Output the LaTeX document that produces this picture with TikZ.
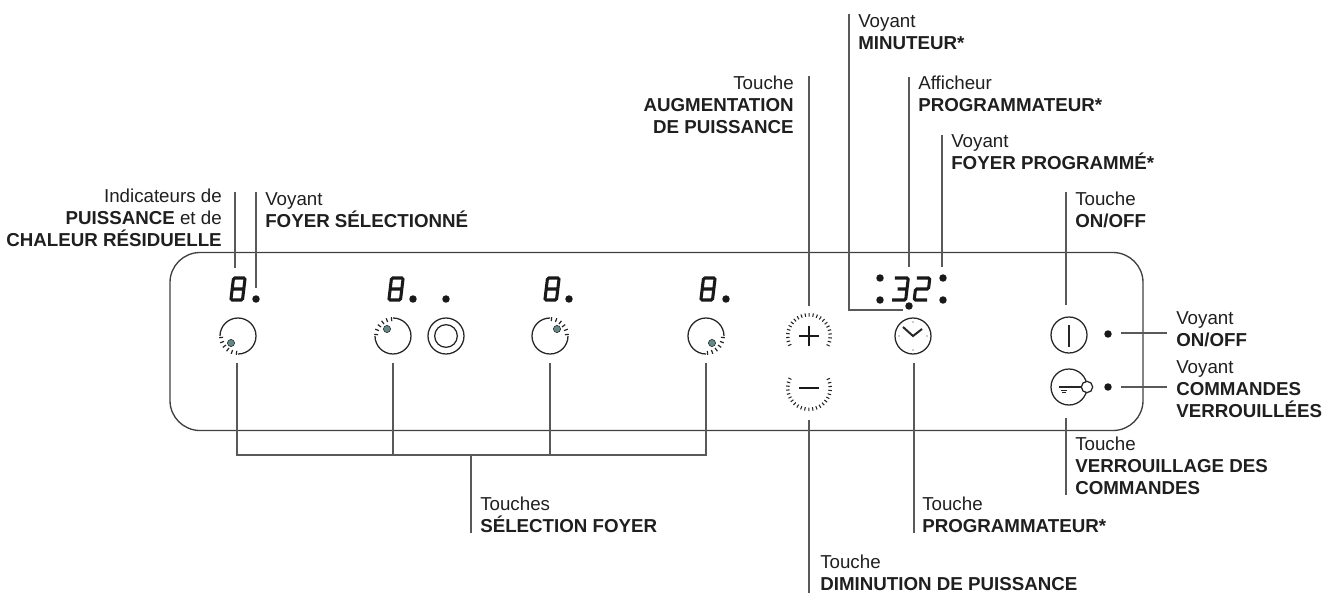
\documentclass[tikz,border=0pt]{standalone}
\usepackage{fontspec}
\setmainfont{Liberation Sans}
\usetikzlibrary{calc}
\tikzset{
  leader/.style={draw=black!65,line width=0.85pt},
  outline/.style={draw=black!75,line width=1pt},
  txtr/.style={text=black!88,font=\fontsize{14.05}{16.5}\selectfont,align=right,anchor=north east,inner sep=0pt},
  txtl/.style={text=black!88,font=\fontsize{14.05}{16.5}\selectfont,align=left,anchor=north west,inner sep=0pt},
  ledpt/.style={circle,fill=black!90,inner sep=0pt,minimum size=5.6pt},
  ledgr/.style={circle,fill=black!55!teal!60,draw=black!85,line width=0.4pt,inner sep=0pt,minimum size=5.4pt},
  btn/.style={circle,draw=black!85,line width=0.95pt,inner sep=0pt,minimum size=27pt},
  eightdigit/.pic={
    \draw[line width=2.3pt,black!90,rounded corners=1pt,xslant=0.12] (-5.8,-11) rectangle (5.8,11) (-5.8,0)--(5.8,0);
  },
  threedigit/.pic={
    \draw[line width=2.3pt,black!90,rounded corners=1pt,xslant=0.12] (-7.5,-11)--(6,-11)--(6,11)--(-7.5,11) (-3.5,0)--(6,0);
  },
  twodigit/.pic={
    \draw[line width=2.3pt,black!90,rounded corners=1pt,xslant=0.12] (-6.5,-11)--(6.5,-11)--(6.5,0)--(-6.5,0)--(-6.5,11)--(6.5,11);
  }
}
\newcommand{\dialbtn}[4]{% name, x, led dx/dy, first tick angle
  \coordinate (#1) at (#2,336);
  \draw[black!85,line width=0.95pt] (#2,336) ++(#4+85:18) arc[start angle=#4+85,end angle=#4+360-5,radius=18];
  \foreach \ang in {0,16,...,80} {
    \draw[black!85,line width=0.9pt] ($(#2,336)+(#4+\ang:15)$)--($(#2,336)+(#4+\ang:19)$);
  }
  \node[ledgr] (#1led) at ($(#2,336)+(#3)$) {};
}
\begin{document}
\begin{tikzpicture}[x=0.75pt,y=-0.75pt]
\useasboundingbox (0,0) rectangle (1324,594);
% panel
\draw[outline,rounded corners=22.5pt] (170,252.5) rectangle (1143,430.5);
% displays
\pic at (238,289) {eightdigit};
\pic at (396,289) {eightdigit};
\pic at (552,289) {eightdigit};
\pic at (708,289) {eightdigit};
\pic at (901,289) {threedigit};
\pic at (922,289) {twodigit};
\node[ledpt] (ledA) at (256,299) {};
\node[ledpt] (ledB) at (413,299) {};
\node[ledpt] (ledC) at (446,299) {};
\node[ledpt] (ledD) at (569,299) {};
\node[ledpt] (ledE) at (726,299) {};
\node[ledpt] (colA) at (880,278) {};
\node[ledpt] (colB) at (880,300) {};
\node[ledpt] (colC) at (943,278) {};
\node[ledpt] (colD) at (943,300) {};
\node[ledpt] (ledMin) at (909,306) {};
\node[ledpt] (ledOn) at (1108,334) {};
\node[ledpt] (ledLock) at (1108,387) {};
% zone keys
\dialbtn{dialA}{238}{-7,7}{95}
\dialbtn{dialB}{393}{-6,-7}{185}
\dialbtn{dialC}{550}{7,-7}{275}
\dialbtn{dialD}{706}{6,7}{5}
\node[btn] (ringO) at (446,336) {};
\node[btn,minimum size=17pt] (ringI) at (446,336) {};
% plus and minus
\coordinate (plusK) at (809,336);
\coordinate (minusK) at (809,388);
\foreach \ang in {155,165.5,...,386} {
  \draw[black!85,line width=0.8pt] ($(plusK)+(\ang:19.5)$)--($(plusK)+(\ang:23)$);
}
\foreach \ang in {-25,-14.5,...,206} {
  \draw[black!85,line width=0.8pt] ($(minusK)+(\ang:19.5)$)--($(minusK)+(\ang:23)$);
}
\draw[black!90,line width=2pt] (799,336)--(819,336) (809,326)--(809,346);
\draw[black!90,line width=2pt] (799,388)--(819,388);
% clock key
\node[btn] (clockK) at (913,336) {};
\draw[black!85,line width=1.5pt] (903,327)--(913,336)--(922,329);
\foreach \ang in {0,90,180,270} {
  \fill[black!85] ($(clockK)+(\ang:14)$) circle (0.7);
}
% on/off and lock keys
\node[btn] (onK) at (1069,335) {};
\coordinate (onT) at (1069,325);
\coordinate (onB) at (1069,347);
\draw[black!85,line width=1pt] (onT)--(onB);
\node[btn] (lockK) at (1069,387) {};
\coordinate (lockL) at (1059,387);
\node[circle,draw=black!85,fill=white,line width=0.95pt,inner sep=0pt,minimum size=8.5pt] (lockR) at (1087,387) {};
\draw[black!85,line width=0.95pt] (lockL)--(lockR);
\draw[black!85,line width=0.6pt] (1061,390)--(1067,390) (1062,392)--(1066,392);
% leaders
\coordinate (tIndic) at (235,192);
\coordinate (bIndic) at (235,268);
\coordinate (tFoyer) at (256,192);
\coordinate (bFoyer) at (256,288);
\draw[leader] (tIndic)--(bIndic);
\draw[leader] (tFoyer)--(bFoyer);
\coordinate (busA) at (237,455);
\coordinate (busB) at (393,455);
\coordinate (busS) at (471,455);
\coordinate (busC) at (550,455);
\coordinate (busD) at (706,455);
\coordinate (endS) at (471,533);
\draw[leader] (237,363)--(busA)--(busD)--(706,363);
\draw[leader] (393,363)--(busB);
\draw[leader] (550,363)--(busC);
\draw[leader] (busS)--(endS);
\coordinate (tPlus) at (809,76);
\coordinate (bPlus) at (809,306);
\draw[leader] (tPlus)--(bPlus);
\coordinate (tMinus) at (809,420);
\coordinate (bMinus) at (809,593);
\draw[leader] (tMinus)--(bMinus);
\coordinate (tMin) at (849,14);
\coordinate (kMin) at (849,310);
\coordinate (bMin) at (903,310);
\draw[leader] (tMin)--(kMin)--(bMin);
\coordinate (tAff) at (909,77);
\coordinate (bAff) at (909,267);
\draw[leader] (tAff)--(bAff);
\coordinate (tProgV) at (942,135);
\coordinate (bProgV) at (942,267);
\draw[leader] (tProgV)--(bProgV);
\coordinate (tProg) at (914,363);
\coordinate (bProg) at (914,533);
\draw[leader] (tProg)--(bProg);
\coordinate (tOn) at (1066,192);
\coordinate (bOn) at (1066,305);
\draw[leader] (tOn)--(bOn);
\coordinate (tLock) at (1066,418);
\coordinate (bLock) at (1066,495);
\draw[leader] (tLock)--(bLock);
\coordinate (lOnV) at (1121,333);
\coordinate (rOnV) at (1167,333);
\draw[leader] (lOnV)--(rOnV);
\coordinate (lLockV) at (1121,387);
\coordinate (rLockV) at (1167,387);
\draw[leader] (lLockV)--(rLockV);
% labels
\node[txtr] (lbIndic) at (222,189) {Indicateurs de\\\textbf{PUISSANCE} et de\\\textbf{CHALEUR RÉSIDUELLE}};
\node[txtl] (lbFoyer) at (265,192) {Voyant\\\textbf{FOYER SÉLECTIONNÉ}};
\node[txtr] (lbPlus) at (794,76) {Touche\\\textbf{AUGMENTATION}\\\textbf{DE PUISSANCE}};
\node[txtl] (lbMin) at (858,14) {Voyant\\\textbf{MINUTEUR*}};
\node[txtl] (lbAff) at (918,76) {Afficheur\\\textbf{PROGRAMMATEUR*}};
\node[txtl] (lbProgV) at (951,134) {Voyant\\\textbf{FOYER PROGRAMMÉ*}};
\node[txtl] (lbOn) at (1075,192) {Touche\\\textbf{ON/OFF}};
\node[txtl] (lbOnV) at (1176,311) {Voyant\\\textbf{ON/OFF}};
\node[txtl] (lbLockV) at (1176,360) {Voyant\\\textbf{COMMANDES}\\\textbf{VERROUILLÉES}};
\node[txtl] (lbLock) at (1075,437) {Touche\\\textbf{VERROUILLAGE DES}\\\textbf{COMMANDES}};
\node[txtl] (lbProg) at (922,497) {Touche\\\textbf{PROGRAMMATEUR*}};
\node[txtl] (lbMinus) at (820,555) {Touche\\\textbf{DIMINUTION DE PUISSANCE}};
\node[txtl] (lbSel) at (480,497) {Touches\\\textbf{SÉLECTION FOYER}};
\end{tikzpicture}
\end{document}
